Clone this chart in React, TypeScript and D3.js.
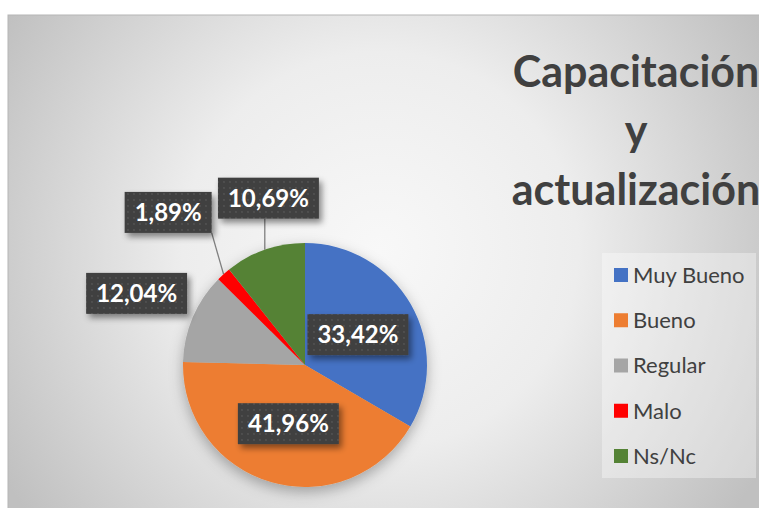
import React, { useRef, useEffect } from 'react';
import * as d3 from 'd3';

const categories = ['Muy Bueno', 'Bueno', 'Regular', 'Malo', 'Ns/Nc'];
const values = [33.42, 41.96, 12.04, 1.89, 10.69];
const labels = ['33,42%', '41,96%', '12,04%', '1,89%', '10,69%'];
const colors = ['#4472C4', '#ED7D31', '#A5A5A5', '#FF0000', '#548235'];
const titleLines = ['Capacitación', 'y', 'actualización'];

const W = 759;
const H = 508;

// label placement: radius as fraction of pie radius, angle nudge (rad)
const labelPlace: [number, number][] = [[0.5, 0], [0.5, 0], [1.5, 0], [1.68, 0], [1.4, 0.12]];
const withLeader = [false, false, false, true, true];

const App = () => {
  const svgRef = useRef<SVGSVGElement | null>(null);

  useEffect(() => {
    const svg = d3.select(svgRef.current);
    svg.selectAll('*').remove();
    const font = 'Lato, "Open Sans", sans-serif';

    const defs = svg.append('defs');
    const bg = defs.append('radialGradient').attr('id', 'bg')
      .attr('gradientUnits', 'userSpaceOnUse')
      .attr('cx', 380).attr('cy', 250).attr('r', 440);
    bg.append('stop').attr('offset', '0%').attr('stop-color', '#f8f8f8');
    bg.append('stop').attr('offset', '45%').attr('stop-color', '#ededed');
    bg.append('stop').attr('offset', '100%').attr('stop-color', '#c0c0c0');

    const pat = defs.append('pattern').attr('id', 'dots')
      .attr('patternUnits', 'userSpaceOnUse').attr('width', 6).attr('height', 6);
    pat.append('rect').attr('width', 6).attr('height', 6).attr('fill', '#404040');
    pat.append('circle').attr('cx', 3).attr('cy', 3).attr('r', 0.9).attr('fill', '#555555');

    const pieShadow = defs.append('filter').attr('id', 'pieShadow')
      .attr('x', '-30%').attr('y', '-30%').attr('width', '160%').attr('height', '160%');
    pieShadow.append('feDropShadow').attr('dx', 0).attr('dy', 5).attr('stdDeviation', 7)
      .attr('flood-color', '#000').attr('flood-opacity', 0.3);

    const boxShadow = defs.append('filter').attr('id', 'boxShadow')
      .attr('x', '-20%').attr('y', '-30%').attr('width', '150%').attr('height', '170%');
    boxShadow.append('feDropShadow').attr('dx', 3).attr('dy', 4).attr('stdDeviation', 3)
      .attr('flood-color', '#000').attr('flood-opacity', 0.45);

    // chart area
    svg.append('rect').attr('width', W).attr('height', H).attr('fill', '#fff');
    svg.append('rect')
      .attr('x', 8).attr('y', 15).attr('width', W + 20).attr('height', H + 20)
      .attr('fill', 'url(#bg)').attr('stroke', '#b5b5b5').attr('stroke-width', 1);

    // title (runs past the right edge, as in the original)
    svg.append('text')
      .attr('x', 636).attr('y', 87)
      .attr('text-anchor', 'middle')
      .attr('font-family', font).attr('font-weight', 700).attr('font-size', 43)
      .attr('fill', '#404040')
      .selectAll('tspan').data(titleLines).join('tspan')
      .attr('x', 636).attr('dy', (d, i) => (i === 0 ? 0 : 59))
      .text(d => d);

    // pie
    const cx = 305;
    const cy = 365;
    const r = 122;
    const pie = d3.pie<number>().sort(null).value(d => d);
    const arcs = pie(values);
    const arc = d3.arc<d3.PieArcDatum<number>>().innerRadius(0).outerRadius(r);

    const g = svg.append('g').attr('transform', `translate(${cx},${cy})`);
    g.append('g').attr('filter', 'url(#pieShadow)')
      .selectAll('path').data(arcs).join('path')
      .attr('d', arc)
      .attr('fill', (d, i) => colors[i]);

    // data labels
    arcs.forEach((a, i) => {
      const mid = (a.startAngle + a.endAngle) / 2;
      const [k, nudge] = labelPlace[i];
      const ang = mid + nudge;
      const lx = Math.sin(ang) * r * k;
      const ly = -Math.cos(ang) * r * k;

      const lg = g.append('g');
      const txt = lg.append('text')
        .attr('x', lx).attr('y', ly).attr('dy', '0.36em')
        .attr('text-anchor', 'middle')
        .attr('font-family', font).attr('font-weight', 700).attr('font-size', 24)
        .attr('fill', '#ffffff')
        .text(labels[i]);
      const tw = (txt.node() as SVGTextElement).getComputedTextLength();
      const bw = tw + 20;
      const bh = 41;
      const bx = lx - bw / 2;
      const by = ly - bh / 2;

      if (withLeader[i]) {
        const px = Math.sin(mid) * r;
        const py = -Math.cos(mid) * r;
        const sx = Math.max(bx, Math.min(bx + bw, px));
        const sy = Math.max(by, Math.min(by + bh, py));
        g.insert('line', ':scope > g')
          .attr('x1', sx).attr('y1', sy).attr('x2', px).attr('y2', py)
          .attr('stroke', '#7f7f7f').attr('stroke-width', 1.3);
      }

      lg.insert('rect', 'text')
        .attr('x', bx).attr('y', by).attr('width', bw).attr('height', bh)
        .attr('fill', 'url(#dots)')
        .attr('filter', 'url(#boxShadow)');
    });

    // legend
    svg.append('rect')
      .attr('x', 602).attr('y', 253).attr('width', 154).attr('height', 225)
      .attr('fill', '#ffffff').attr('opacity', 0.35);
    const y = d3.scalePoint<string>().domain(categories).range([275, 456]);
    const leg = svg.append('g').selectAll('g').data(categories).join('g')
      .attr('transform', d => `translate(614,${y(d)})`);
    leg.append('rect')
      .attr('x', 0).attr('y', -7).attr('width', 14).attr('height', 14)
      .attr('fill', (d, i) => colors[i]);
    leg.append('text')
      .attr('x', 19).attr('y', 0).attr('dy', '0.36em')
      .attr('font-family', font).attr('font-size', 22)
      .attr('fill', '#404040')
      .text(d => d);
  }, []);

  return (
    <svg
      ref={svgRef}
      width={W}
      height={H}
      style={{ position: 'absolute', left: 0, top: 0 }}
    />
  );
};

export default App;
